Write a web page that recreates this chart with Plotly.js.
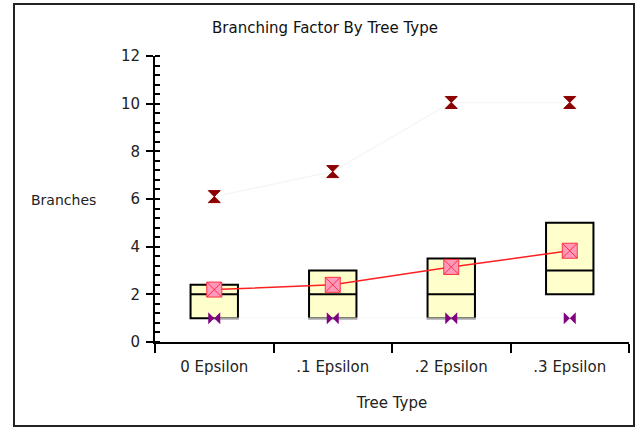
<!DOCTYPE html>
<html>
<head>
<meta charset="utf-8">
<script src="https://cdn.plot.ly/plotly-3.0.1.min.js"></script>
<style>
  html, body { margin: 0; padding: 0; background: #fff; }
  #chart { width: 636px; height: 429px; }
</style>
</head>
<body>
<div id="chart"></div>
<script>
const categories = ["0 Epsilon", ".1 Epsilon", ".2 Epsilon", ".3 Epsilon"];
const q1Values = [1, 1, 1, 2];
const medianValues = [2, 2, 2, 3];
const q3Values = [2.4, 3, 3.5, 5];
const meanValues = [2.2, 2.4, 3.15, 3.83];
const maxValues = [6.1, 7.15, 10.05, 10.05];
const minValues = [1, 1, 1, 1];
const yTicks = [0, 2, 4, 6, 8, 10, 12];

const FONT = "DejaVu Sans, sans-serif";
const FS = 15;

const traces = [
  {
    type: "box",
    x: categories,
    q1: q1Values,
    median: medianValues,
    q3: q3Values,
    lowerfence: q1Values,
    upperfence: q3Values,
    width: 0.4,
    whiskerwidth: 0,
    fillcolor: "#ffffcc",
    line: { color: "#000000", width: 2 },
    hoverinfo: "skip",
    showlegend: false
  },
  {
    type: "scatter",
    mode: "lines+markers",
    x: categories,
    y: minValues,
    line: { color: "#f9f9f9", width: 1 },
    marker: { symbol: "bowtie", size: 12, color: "#800080", line: { width: 0 } },
    showlegend: false
  },
  {
    type: "scatter",
    mode: "lines+markers",
    x: categories,
    y: maxValues,
    line: { color: "#f6f6f6", width: 1.5 },
    marker: { symbol: "hourglass", size: 12, color: "#8b0000", line: { color: "#8b0000", width: 1 } },
    showlegend: false
  },
  {
    type: "scatter",
    mode: "lines+markers",
    x: categories,
    y: meanValues,
    line: { color: "#ff2020", width: 1.5 },
    marker: { symbol: "square-x", size: 15, color: "#ff99bb", line: { color: "#ff3040", width: 1 } },
    showlegend: false
  }
];

const layout = {
  width: 636,
  height: 429,
  margin: { l: 155, r: 7, t: 56, b: 87, pad: 0 },
  paper_bgcolor: "#ffffff",
  plot_bgcolor: "#ffffff",
  showlegend: false,
  font: { family: FONT, size: FS, color: "#222222" },
  title: {
    text: "Branching Factor By Tree Type",
    font: { family: FONT, size: FS, color: "#111111" },
    x: 325 / 636, xref: "container", xanchor: "center",
    y: 28, yref: "container", yanchor: "middle"
  },
  xaxis: {
    type: "category",
    categoryorder: "array",
    categoryarray: categories,
    range: [-0.5, 3.5],
    showline: true,
    linecolor: "#000000",
    linewidth: 2,
    showgrid: false,
    zeroline: false,
    ticks: "outside",
    tickson: "boundaries",
    ticklen: 9,
    tickwidth: 2,
    tickcolor: "#000000",
    ticklabelstandoff: 10,
    tickfont: { family: FONT, size: FS, color: "#222222" },
    title: { text: "Tree Type", font: { family: FONT, size: FS, color: "#222222" }, standoff: 22 }
  },
  yaxis: {
    range: [0, 12],
    tickvals: yTicks,
    showline: true,
    linecolor: "#000000",
    linewidth: 2,
    showgrid: false,
    zeroline: false,
    ticks: "outside",
    ticklen: 7,
    tickwidth: 2,
    tickcolor: "#000000",
    tickfont: { family: FONT, size: FS, color: "#222222" },
    ticklabelstandoff: 3,
    minor: { dtick: 0.4, ticks: "inside", ticklen: 5, tickwidth: 2, tickcolor: "#000000", showgrid: false }
  },
  annotations: [
    {
      text: "Branches",
      xref: "paper", yref: "paper",
      x: (63 - 155) / 474, y: (342 - 200) / 286,
      xanchor: "center", yanchor: "middle",
      showarrow: false,
      font: { family: FONT, size: 14, color: "#222222" }
    }
  ],
  shapes: [
    {
      type: "rect", xref: "paper", yref: "paper",
      x0: (14 - 155) / 474, x1: (634 - 155) / 474,
      y0: (342 - 426) / 286, y1: (342 - 4) / 286,
      line: { color: "#222222", width: 2 },
      fillcolor: "rgba(0,0,0,0)",
      layer: "below"
    }
  ]
};

Plotly.newPlot("chart", traces, layout, { displayModeBar: false, staticPlot: true });
</script>
</body>
</html>
